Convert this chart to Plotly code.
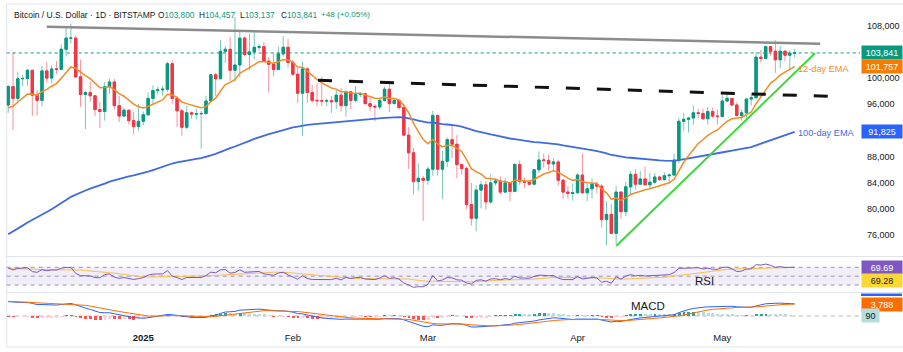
import plotly.graph_objects as go
import pandas as pd

# ---------------- data (BTC/USD daily, Bitstamp) ----------------
start_date = "2024-12-04"
end_date = "2025-05-16"

opens = [
    # Dec 2024 (4..31)
    95900, 98700, 96900, 99900, 99950, 101200, 97400, 96600, 101100, 100000, 101400, 101350, 104400, 106100,
    106100, 100200, 97500, 97800, 97300, 95200, 94900, 98700, 99400, 95800, 94200, 95100, 93500, 92600,
    # Jan 2025
    93400, 94400, 96900, 98100, 98200, 98300, 102200, 96900, 95000, 92500, 94700, 94500, 94550, 94600, 96500,
    100500, 99900, 104100, 104400, 101200, 102000, 106100, 103600, 104000, 104700, 104800, 102600, 102100,
    101300, 103700, 104700,
    # Feb 2025
    102400, 100600, 97700, 101400, 97800, 96600, 96550, 96500, 96550, 96400, 97400, 95800, 97900, 96600,
    97500, 97600, 96100, 95700, 95600, 96600, 98300, 96100, 96600, 95500, 91300, 88600, 84200, 84700,
    # Mar 2025
    84400, 86100, 94300, 86100, 87300, 90600, 89900, 86800, 86200, 80700, 78600, 82900, 83700, 81100, 84000,
    84300, 82600, 84000, 82700, 86800, 84200, 84100, 83800, 86000, 87500, 87450, 86900, 87200, 84400, 82600,
    82400,
    # Apr 2025
    82500, 85200, 82500, 83100, 83800, 83500, 78400, 79200, 76300, 82600, 79600, 83400, 85300, 83800, 84600,
    83700, 84100, 84900, 84500, 85100, 85200, 87500, 93400, 93700, 93900, 94700, 94600, 93800, 94900, 94200,
    # May 2025
    94150, 96500, 96900, 95900, 94300, 94700, 96800, 97000, 103200, 103000, 104800, 104100, 102800, 104100,
    103500, 103800,
]
highs = [
    99000, 103900, 101000, 100500, 101400, 101200, 98200, 101900, 102500, 101900, 102600, 105100, 107800, 108300,
    106500, 102800, 98100, 99500, 97400, 96400, 99400, 99900, 99900, 97300, 95500, 95200, 94900, 96100,
    94900, 97800, 98900, 98700, 98800, 102500, 102700, 97200, 95300, 95800, 94900, 95300, 95000, 97300, 100600,
    100800, 105800, 104900, 106300, 109300, 107200, 106400, 106800, 107100, 105200, 105500, 103200, 103800,
    104800, 106400, 106000,
    102800, 101500, 102500, 101700, 99000, 99200, 100200, 96900, 97300, 98300, 98500, 98100, 98000, 98800,
    97900, 97800, 97000, 96000, 96900, 98700, 99500, 96900, 96700, 96000, 92500, 89300, 87000, 85100,
    86500, 95000, 94400, 88900, 90900, 92800, 91300, 86900, 86500, 84000, 83600, 84300, 84300, 85300, 84700,
    85000, 84700, 84000, 87000, 87400, 84800, 84500, 86100, 88800, 88500, 88300, 87800, 87500, 84600, 83500,
    83900,
    85500, 88500, 83900, 84700, 84200, 83800, 81200, 80800, 83500, 82700, 84200, 85800, 86100, 85800, 86500,
    85500, 85500, 85100, 85600, 85300, 88500, 93900, 94700, 94000, 95800, 95300, 95300, 95600, 95500, 95200,
    97400, 97900, 96900, 96300, 95200, 96900, 97700, 103900, 104300, 104900, 104900, 105800, 104900, 104300,
    104200, 104457,
]
lows = [
    94700, 92100, 96500, 98800, 98800, 94200, 94300, 95700, 99300, 99200, 100600, 101200, 103300, 105300,
    100000, 95600, 92200, 96400, 94200, 92400, 93500, 97600, 95200, 93300, 94100, 92900, 91400, 92000,
    92800, 94200, 96000, 97500, 97300, 97900, 96100, 92500, 91200, 92200, 93800, 93700, 89200, 94300, 96500,
    97300, 99900, 102300, 99600, 99500, 100100, 103300, 101200, 102800, 104200, 102500, 97800, 100300,
    101300, 103300, 101600,
    100300, 96200, 91200, 96200, 96200, 95700, 95700, 95700, 94700, 95300, 94900, 94100, 95300, 96300,
    97100, 96000, 95000, 93400, 95200, 96400, 94800, 96100, 95200, 91200, 86100, 82200, 82800, 78200,
    83700, 85100, 85100, 81500, 86400, 87800, 84700, 85300, 80000, 77500, 76600, 80100, 79900, 80800, 83600,
    82200, 82500, 81200, 82600, 83700, 83200, 83700, 83800, 85500, 86300, 85900, 85900, 83600, 81600, 81600,
    81300,
    82400, 82300, 81200, 81600, 82400, 77200, 74500, 76200, 74600, 78500, 78900, 82200, 83000, 83700, 83700,
    83100, 83900, 84300, 84400, 83900, 85100, 87000, 91900, 91700, 92900, 93900, 93600, 92900, 93900, 92900,
    94100, 96300, 95700, 94100, 93500, 93400, 95800, 96900, 102400, 102900, 103400, 100800, 101500, 102600,
    101400, 103137,
]
closes = [
    98700, 96900, 99900, 99950, 101200, 97400, 96600, 101100, 100000, 101400, 101350, 104400, 106100, 106100,
    100200, 97500, 97800, 97300, 95200, 94900, 98700, 99400, 95800, 94200, 95100, 93500, 92600, 93400,
    94400, 96900, 98100, 98200, 98300, 102200, 96900, 95000, 92500, 94700, 94500, 94550, 94600, 96500, 100500,
    99900, 104100, 104400, 101200, 102000, 106100, 103600, 104000, 104700, 104800, 102600, 102100, 101300,
    103700, 104700, 102400,
    100600, 97700, 101400, 97800, 96600, 96550, 96500, 96550, 96400, 97400, 95800, 97900, 96600, 97500,
    97600, 96100, 95700, 95600, 96600, 98300, 96100, 96600, 95500, 91300, 88600, 84200, 84700, 84400,
    86100, 94300, 86100, 87300, 90600, 89900, 86800, 86200, 80700, 78600, 82900, 83700, 81100, 84000, 84300,
    82600, 84000, 82700, 86800, 84200, 84100, 83800, 86000, 87500, 87450, 86900, 87200, 84400, 82600, 82400,
    82500,
    85200, 82500, 83100, 83800, 83500, 78400, 79200, 76300, 82600, 79600, 83400, 85300, 83800, 84600, 83700,
    84100, 84900, 84500, 85100, 85200, 87500, 93400, 93700, 93900, 94700, 94600, 93800, 94900, 94200, 94150,
    96500, 96900, 95900, 94300, 94700, 96800, 97000, 103200, 103000, 104800, 104100, 102800, 104100, 103500,
    103793, 103841,
]

# indicator seeds at the first bar
EMA12_SEED = 95480
EMA26_SEED = 90900
EMA100_SEED = 76150
SIGNAL_SEED = 4700
AVG_GAIN_SEED = 1500
AVG_LOSS_SEED = 700

# analyst drawings (date, price)
resistance_line = [("2024-12-12", 107850), ("2025-05-21 07:00", 105250)]
dashed_line = [("2025-02-06 05:00", 99660), ("2025-05-22 22:00", 97220)]
support_line = [("2025-04-09", 74370), ("2025-05-20 05:00", 103790)]

x_ticks = ["2025-01-01", "2025-02-01", "2025-03-01", "2025-04-01", "2025-05-01"]
x_ticktext = ["<b>2025</b>", "Feb", "Mar", "Apr", "May"]
y_ticks = [76000, 80000, 84000, 88000, 96000, 100000, 108000]

header_title = "Bitcoin / U.S. Dollar · 1D · BITSTAMP"
header_values = [("O", "103,800"), ("H", "104,457"), ("L", "103,137"), ("C", "103,841")]
header_change = "+48 (+0.05%)"
price_label = "103,841"
ema12_label = "101,757"
ema100_label = "91,825"
rsi_label = "69.69"
rsi_ma_label = "69.28"
macd_label = "3,878"
signal_label = "3,788"
hist_label = "90"

# ---------------- derived indicators ----------------
dates = pd.date_range(start_date, end_date, freq="D")


def ema(values, period, seed):
    a = 2.0 / (period + 1)
    out = []
    prev = seed
    for i, v in enumerate(values):
        if i > 0:
            prev = prev + a * (v - prev)
        out.append(prev)
    return out


ema12 = ema(closes, 12, EMA12_SEED)
ema26 = ema(closes, 26, EMA26_SEED)
ema100 = ema(closes, 100, EMA100_SEED)
macd = [a - b for a, b in zip(ema12, ema26)]
signal = ema(macd, 9, SIGNAL_SEED)
hist = [m - s for m, s in zip(macd, signal)]

ag, al = AVG_GAIN_SEED, AVG_LOSS_SEED
rsi = [100 - 100 / (1 + ag / al)]
for i in range(1, len(closes)):
    ch = closes[i] - closes[i - 1]
    ag = (ag * 13 + max(ch, 0)) / 14
    al = (al * 13 + max(-ch, 0)) / 14
    rsi.append(100 - 100 / (1 + ag / al))
rsi_ma = pd.Series(rsi).rolling(14, min_periods=1).mean().tolist()

hist_colors = []
for i, h in enumerate(hist):
    prev = hist[i - 1] if i > 0 else h
    if h >= 0:
        hist_colors.append("#26A69A" if h >= prev else "#B2DFDB")
    else:
        hist_colors.append("#FF5252" if h <= prev else "#FFCDD2")

body_hi = [max(o, c) for o, c in zip(opens, closes)]
body_lo = [min(o, c) for o, c in zip(opens, closes)]

# ---------------- figure ----------------
W, H = 903, 352
UP, DN = "#089981", "#F23645"
FONT = "Liberation Sans, Arial, sans-serif"
TXT = "#131722"


def py(p):
    return 1 - p / H


def px(p):
    return p / W


X0, X1 = px(6.7), px(860)

fig = go.Figure()

# wicks (lighter)
fig.add_trace(go.Candlestick(
    x=dates, open=opens, high=highs, low=lows, close=closes,
    increasing=dict(line=dict(color="rgba(8,153,129,0.55)", width=1), fillcolor="rgba(8,153,129,0.55)"),
    decreasing=dict(line=dict(color="rgba(242,54,69,0.55)", width=1), fillcolor="rgba(242,54,69,0.55)"),
    whiskerwidth=0, hoverinfo="skip", showlegend=False))
# bodies
fig.add_trace(go.Candlestick(
    x=dates, open=opens, high=body_hi, low=body_lo, close=closes,
    increasing=dict(line=dict(color=UP, width=1), fillcolor=UP),
    decreasing=dict(line=dict(color=DN, width=1), fillcolor=DN),
    whiskerwidth=0, hoverinfo="skip", showlegend=False))

fig.add_trace(go.Scatter(x=dates, y=ema100, mode="lines", line=dict(color="#3F6AE0", width=1.8),
                         hoverinfo="skip", showlegend=False))
fig.add_trace(go.Scatter(x=dates, y=ema12, mode="lines", line=dict(color="#F28C28", width=1.5),
                         hoverinfo="skip", showlegend=False))

# RSI
fig.add_trace(go.Scatter(x=dates, y=rsi_ma, yaxis="y2", mode="lines", line=dict(color="#F2C14E", width=1),
                         hoverinfo="skip", showlegend=False))
fig.add_trace(go.Scatter(x=dates, y=rsi, yaxis="y2", mode="lines", line=dict(color="#7E57C2", width=1),
                         hoverinfo="skip", showlegend=False))

# MACD
fig.add_trace(go.Bar(x=dates, y=hist, yaxis="y3", marker=dict(color=hist_colors, line=dict(width=0)),
                     width=0.6 * 86400000, hoverinfo="skip", showlegend=False))
fig.add_trace(go.Scatter(x=dates, y=macd, yaxis="y3", mode="lines", line=dict(color="#2962FF", width=1),
                         hoverinfo="skip", showlegend=False))
fig.add_trace(go.Scatter(x=dates, y=signal, yaxis="y3", mode="lines", line=dict(color="#FF6D00", width=1),
                         hoverinfo="skip", showlegend=False))

shapes = []
# frame / separators
for yy in (4, 256.5, 292.5, 347):
    shapes.append(dict(type="line", xref="paper", yref="paper", x0=X0, x1=1, y0=py(yy), y1=py(yy),
                       line=dict(color="#E0E3EB", width=1), layer="below"))
shapes.append(dict(type="line", xref="paper", yref="paper", x0=X0, x1=X0, y0=py(4), y1=py(347),
                   line=dict(color="#E0E3EB", width=1), layer="below"))
# RSI band and levels
shapes.append(dict(type="rect", xref="paper", yref="y2", x0=X0, x1=X1, y0=30, y1=70,
                   fillcolor="rgba(126,87,194,0.10)", line=dict(width=0), layer="below"))
for lvl in (70, 50, 30):
    shapes.append(dict(type="line", xref="paper", yref="y2", x0=X0, x1=X1, y0=lvl, y1=lvl,
                       line=dict(color="#9598A1", width=1, dash="4px,4px"), layer="below"))
shapes.append(dict(type="line", xref="paper", yref="y3", x0=X0, x1=X1, y0=0, y1=0,
                   line=dict(color="#B2B5BE", width=1, dash="4px,4px"), layer="below"))
# last price dotted
shapes.append(dict(type="line", xref="paper", yref="y", x0=X0, x1=X1, y0=closes[-1], y1=closes[-1],
                   line=dict(color=UP, width=1, dash="dot"), layer="below"))
# drawings
shapes.append(dict(type="line", xref="x", yref="y", x0=resistance_line[0][0], y0=resistance_line[0][1],
                   x1=resistance_line[1][0], y1=resistance_line[1][1], line=dict(color="#8C8C8C", width=2.5)))
shapes.append(dict(type="line", xref="x", yref="y", x0=dashed_line[0][0], y0=dashed_line[0][1],
                   x1=dashed_line[1][0], y1=dashed_line[1][1], line=dict(color="#111111", width=3, dash="14px,17px")))
shapes.append(dict(type="line", xref="x", yref="y", x0=support_line[0][0], y0=support_line[0][1],
                   x1=support_line[1][0], y1=support_line[1][1], line=dict(color="#3BD93B", width=2)))
# partially hidden MACD value box
shapes.append(dict(type="rect", xref="paper", yref="paper", x0=px(861), x1=px(902), y0=py(296), y1=py(293.5),
                   fillcolor="#2962FF", line=dict(width=0)))

ann = []
HY = py(15)
ann.append(dict(text=header_title, xref="paper", yref="paper", x=px(12.5), y=HY, xanchor="left",
                yanchor="middle", showarrow=False, borderpad=0, font=dict(family=FONT, size=8.5, color=TXT)))
hdr_x = [156.5, 198, 239, 279.5]
for (k, v), hx in zip(header_values, hdr_x):
    ann.append(dict(text=f"{k}<span style='color:{UP}'>{v}</span>", xref="paper", yref="paper", x=px(hx), y=HY,
                    xanchor="left", yanchor="middle", showarrow=False, borderpad=0,
                    font=dict(family=FONT, size=8.3, color=TXT)))
ann.append(dict(text=header_change, xref="paper", yref="paper", x=px(319.5), y=HY, xanchor="left",
                yanchor="middle", showarrow=False, borderpad=0, font=dict(family=FONT, size=8.1, color=UP)))

last_x = dates[-1] + pd.Timedelta(hours=12)
ann.append(dict(text="12-day EMA", x=last_x, y=ema12[-1], xref="x", yref="y", xanchor="left", yanchor="middle",
                yshift=-2, showarrow=False, borderpad=0, font=dict(family=FONT, size=9.2, color="#F28C28")))
ann.append(dict(text="100-day EMA", x=last_x, y=ema100[-1], xref="x", yref="y", xanchor="left", yanchor="middle",
                yshift=-1, showarrow=False, borderpad=0, font=dict(family=FONT, size=9.2, color="#3F6AE0")))
ann.append(dict(text="RSI", xref="paper", yref="paper", x=px(704), y=py(281), xanchor="center", yanchor="middle",
                showarrow=False, font=dict(family=FONT, size=11.5, color=TXT)))
ann.append(dict(text="MACD", xref="paper", yref="paper", x=px(648), y=py(306), xanchor="center", yanchor="middle",
                showarrow=False, font=dict(family=FONT, size=11.5, color=TXT)))


def box(text, y, yref, bg, fg="white", w=38, yshift=0):
    return dict(text=text, xref="paper", yref=yref, x=px(861), y=y, xanchor="left", yanchor="middle",
                yshift=yshift, showarrow=False, bgcolor=bg, width=w, height=11, borderpad=1, align="center",
                font=dict(family=FONT, size=9, color=fg))


ann.append(box(price_label, float(price_label.replace(",", "")), "y", UP))
ann.append(box(ema12_label, float(ema12_label.replace(",", "")), "y", "#F57C00"))
ann.append(box(ema100_label, float(ema100_label.replace(",", "")), "y", "#2962FF"))
ann.append(box(rsi_label, float(rsi_label), "y2", "#7E57C2"))
ann.append(box(rsi_ma_label, float(rsi_ma_label), "y2", "#FDD835", fg=TXT, yshift=-13))
ann.append(box(signal_label, float(signal_label.replace(",", "")), "y3", "#FF6D00"))
ann.append(box(hist_label, float(hist_label), "y3", "#B2DFDB", fg=TXT, w=15))

fig.update_layout(
    width=W, height=H, margin=dict(l=0, r=0, t=0, b=0),
    paper_bgcolor="white", plot_bgcolor="white", showlegend=False,
    font=dict(family=FONT, color=TXT),
    shapes=shapes, annotations=ann, bargap=0,
    xaxis=dict(domain=[X0, X1], range=["2024-12-03 16:35", "2025-05-29 13:00"], anchor="y3",
               showgrid=False, zeroline=False, showline=False, ticks="",
               tickvals=x_ticks, ticktext=x_ticktext, tickfont=dict(family=FONT, size=9.5, color=TXT),
               rangeslider=dict(visible=False), fixedrange=True),
    yaxis=dict(domain=[py(256), py(5)], range=[72840, 111160], side="right", anchor="x",
               showgrid=False, zeroline=False, showline=False, ticks="", tickvals=y_ticks,
               tickformat=",d", ticklabelstandoff=6, tickfont=dict(family=FONT, size=9, color=TXT)),
    yaxis2=dict(domain=[py(292), py(257)], range=[14.2, 93.3], anchor="x", side="right",
                showgrid=False, zeroline=False, showline=False, showticklabels=False, ticks=""),
    yaxis3=dict(domain=[py(330), py(293)], range=[-4470, 7344], anchor="x", side="right",
                showgrid=False, zeroline=False, showline=False, showticklabels=False, ticks=""),
)

fig.write_html("out.html")
